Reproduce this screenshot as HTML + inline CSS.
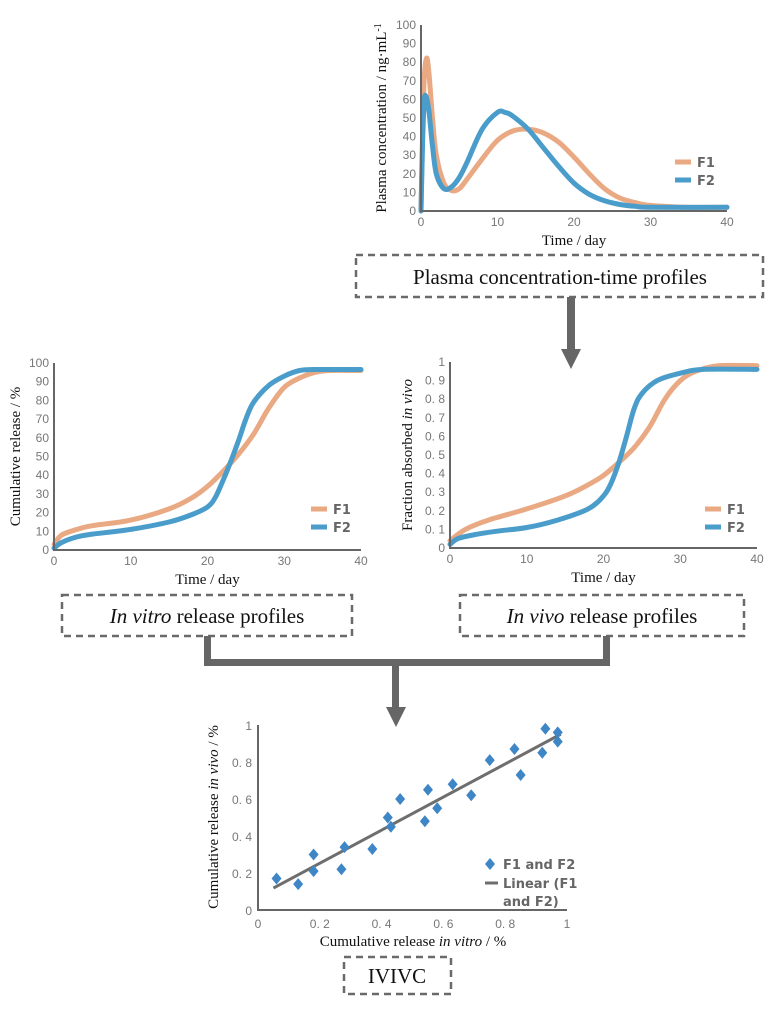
<!DOCTYPE html>
<html><head><meta charset="utf-8">
<style>
html,body{margin:0;padding:0;background:#fff;}
svg{display:block;}
.tk{font-family:"Liberation Sans",sans-serif;font-size:12px;fill:#777;}
.ttl{font-family:"Liberation Serif",serif;font-size:15px;fill:#111;}
.lg{font-family:"DejaVu Sans",sans-serif;font-size:13px;font-weight:bold;fill:#666;}
.bx{font-family:"Liberation Serif",serif;font-size:21px;fill:#111;}
</style></head>
<body>
<svg id="fig" width="778" height="1009" viewBox="0 0 778 1009" xmlns="http://www.w3.org/2000/svg">
  <!-- boxes -->
  <g fill="none" stroke="#6a6a6a" stroke-width="2.5" stroke-dasharray="7 5">
    <rect x="356" y="255" width="407" height="42"/>
    <rect x="62" y="595" width="290" height="41"/>
    <rect x="460" y="595" width="284" height="41"/>
    <rect x="344" y="957" width="107" height="37"/>
  </g>
  <text class="bx" x="560" y="284" text-anchor="middle">Plasma concentration-time profiles</text>
  <text class="bx" x="207" y="623" text-anchor="middle"><tspan font-style="italic">In vitro</tspan> release profiles</text>
  <text class="bx" x="602" y="623" text-anchor="middle"><tspan font-style="italic">In vivo</tspan> release profiles</text>
  <text class="bx" x="397" y="983" text-anchor="middle">IVIVC</text>
  <!-- arrows -->
  <g fill="#666" stroke="none">
    <rect x="567" y="297" width="8" height="53"/>
    <polygon points="561,349 581,349 571,369"/>
    <rect x="204" y="636" width="7" height="30"/>
    <rect x="603" y="636" width="7" height="30"/>
    <rect x="204" y="659" width="406" height="7"/>
    <rect x="392" y="662" width="7" height="46"/>
    <polygon points="386,707 406,707 396,727"/>
  </g>
  <g id="charts"></g>
</svg>
<script>
// ---- Plasma chart data ----
const plasmaDays1 = [0,0.2,0.4,0.7,1,1.5,2,3,4,5,6,8,10,12,14,16,18,20,22,24,26,28,30,35,40];
const plasmaF1 =    [0,40,70,82,76,50,30,15,11,12,17,28,38,43,44,42,37,29,20,12,7,4.5,3,2,2];
const plasmaDays2 = [0,0.2,0.4,0.6,1,1.5,2,3,4,5,6,8,10,11,12,14,16,18,20,22,24,26,28,30,40];
const plasmaF2 =    [0,35,58,62,55,35,20,12,13,18,26,44,53,53,51,44,34,24,15,9,5.5,3.5,2.5,2,2];
const plasmaYTicks = [0,10,20,30,40,50,60,70,80,90,100];
const timeTicks = [0,10,20,30,40];
// ---- In vitro chart data ----
const vitroDays1 = [0,1,3,5,10,15,18,20,22,24,26,28,30,32,34,36,40];
const vitroF1 =    [3,8,11,13,16,22,28,34,42,51,62,76,87,92,95,96,96];
const vitroDays2 = [0,1,3,5,10,15,18,20,21,22,23,24,25,26,28,30,32,34,40];
const vitroF2 =    [1,4,7,8.5,11,15,19,23,28,37,47,58,70,79,88,93,96,96.5,96.5];
const vitroYTicks = [0,10,20,30,40,50,60,70,80,90,100];
// ---- In vivo chart data ----
const vivoDays1 = [0,2,5,10,15,18,20,22,24,26,28,30,32,35,40];
const vivoF1 =    [0.04,0.1,0.15,0.21,0.28,0.34,0.39,0.46,0.54,0.65,0.8,0.9,0.95,0.98,0.98];
const vivoDays2 = [0,1,3,6,10,14,18,20,21,22,23,24,25,27,30,33,40];
const vivoF2 =    [0.02,0.05,0.07,0.09,0.11,0.15,0.21,0.28,0.35,0.46,0.6,0.75,0.83,0.9,0.94,0.96,0.96];
const vivoYTicks = [0,0.1,0.2,0.3,0.4,0.5,0.6,0.7,0.8,0.9,1];
const vivoYLabels = ["0","0. 1","0. 2","0. 3","0. 4","0. 5","0. 6","0. 7","0. 8","0. 9","1"];
// ---- IVIVC scatter data ----
const ivX = [0.06,0.13,0.18,0.18,0.27,0.28,0.37,0.42,0.43,0.46,0.54,0.55,0.58,0.63,0.69,0.75,0.83,0.85,0.92,0.93,0.97,0.97];
const ivY = [0.17,0.14,0.30,0.21,0.22,0.34,0.33,0.50,0.45,0.60,0.48,0.65,0.55,0.68,0.62,0.81,0.87,0.73,0.85,0.98,0.91,0.96];
const ivTicks = [0,0.2,0.4,0.6,0.8,1];
const ivXLabels = ["0","0. 2","0. 4","0. 6","0. 8","1"];
const ivYLabels = ["0","0. 2","0. 4","0. 6","0. 8","1"];

const NS = "http://www.w3.org/2000/svg";
const root = document.getElementById('charts');
const ORANGE = "#e9a983", BLUE = "#4a9dca";
function mk(tag, attrs, parent){ const e=document.createElementNS(NS,tag); for(const k in attrs) e.setAttribute(k,attrs[k]); (parent||root).appendChild(e); return e; }
function smooth(pts){
  let d = "M"+pts[0][0].toFixed(1)+","+pts[0][1].toFixed(1);
  for(let i=0;i<pts.length-1;i++){
    const p0=pts[Math.max(0,i-1)],p1=pts[i],p2=pts[i+1],p3=pts[Math.min(pts.length-1,i+2)];
    const c1=[p1[0]+(p2[0]-p0[0])/6,p1[1]+(p2[1]-p0[1])/6];
    const c2=[p2[0]-(p3[0]-p1[0])/6,p2[1]-(p3[1]-p1[1])/6];
    d+="C"+c1[0].toFixed(1)+","+c1[1].toFixed(1)+" "+c2[0].toFixed(1)+","+c2[1].toFixed(1)+" "+p2[0].toFixed(1)+","+p2[1].toFixed(1);
  }
  return d;
}
function axes(g,x0,y0,x1,y1){
  const a=mk('path',{d:`M${x0},${y1} L${x0},${y0} L${x1},${y0}`,fill:'none',stroke:'#666','stroke-width':2},g);
  
  
}
function lineChart(cfg){
  const g=mk('g',{});
  
  
  const sx=v=>cfg.x0+(v-0)/(40)*(cfg.x1-cfg.x0);
  const sy=v=>cfg.y0-(v/cfg.ymax)*(cfg.y0-cfg.y1);
  cfg.series.forEach(s=>{
    const p=mk('path',{d:smooth(s.x.map((v,i)=>[sx(v),sy(s.y[i])])),fill:'none',stroke:s.color,'stroke-width':5,'stroke-linejoin':'round','stroke-linecap':'round'},g);
    
    
  });
  axes(g,cfg.x0,cfg.y0,cfg.x1,cfg.y1);
  cfg.yTicks.forEach((v,i)=>{
    const t=mk('text',{class:'tk',x:cfg.x0-5,y:sy(v)+4,'text-anchor':'end'},g);
    t.textContent=cfg.yLabels?cfg.yLabels[i]:String(v);
    
    
  });
  timeTicks.forEach(v=>{
    const t=mk('text',{class:'tk',x:sx(v),y:cfg.y0+15,'text-anchor':'middle'},g);
    t.textContent=String(v);
    
    
  });
  const xt=mk('text',{class:'ttl',x:(cfg.x0+cfg.x1)/2,y:cfg.y0+34,'text-anchor':'middle'},g);
  xt.textContent='Time / day';
  
  
  const yt=mk('text',{class:'ttl',transform:`translate(${cfg.ytx},${(cfg.y0+cfg.y1)/2}) rotate(-90)`,'text-anchor':'middle'},g);
  yt.innerHTML=cfg.ytitle;
  
  
  cfg.series.forEach((s,i)=>{
    const ly=cfg.ly+i*18;
    const l=mk('line',{x1:cfg.lx,y1:ly,x2:cfg.lx+16,y2:ly,stroke:s.color,'stroke-width':5},g);
    
    
    const t=mk('text',{class:'lg',x:cfg.lx+22,y:ly+5},g);
    t.textContent=s.label;
    
    
  });
}
lineChart({name:'plasma-chart',x0:421,x1:727,y0:211,y1:25,ymax:100,yTicks:plasmaYTicks,ytx:386,
  ytitle:'Plasma concentration / ng·mL<tspan dy="-5" font-size="10">-1</tspan>',lx:675,ly:162,
  series:[{x:plasmaDays1,y:plasmaF1,color:ORANGE,label:'F1'},{x:plasmaDays2,y:plasmaF2,color:BLUE,label:'F2'}]});
lineChart({name:'in-vitro-chart',x0:54,x1:361,y0:550,y1:363,ymax:100,yTicks:vitroYTicks,ytx:20,
  ytitle:'Cumulative release / %',lx:311,ly:509,
  series:[{x:vitroDays1,y:vitroF1,color:ORANGE,label:'F1'},{x:vitroDays2,y:vitroF2,color:BLUE,label:'F2'}]});
lineChart({name:'in-vivo-chart',x0:450,x1:757,y0:548,y1:362,ymax:1,yTicks:vivoYTicks,yLabels:vivoYLabels,ytx:412,
  ytitle:'Fraction absorbed <tspan font-style="italic">in vivo</tspan>',lx:705,ly:509,
  series:[{x:vivoDays1,y:vivoF1,color:ORANGE,label:'F1'},{x:vivoDays2,y:vivoF2,color:BLUE,label:'F2'}]});

// ---- scatter ----
(function(){
  const x0=258,x1=567,y0=910,y1=725;
  const sx=v=>x0+v*(x1-x0), sy=v=>y0-v*(y0-y1);
  const g=mk('g',{});
  
  
  axes(g,x0,y0,x1,y1);
  const n=ivX.length; let mx=0,my=0; ivX.forEach((v,i)=>{mx+=v;my+=ivY[i];}); mx/=n;my/=n;
  let sxy=0,sxx=0; ivX.forEach((v,i)=>{sxy+=(v-mx)*(ivY[i]-my);sxx+=(v-mx)*(v-mx);});
  const b=sxy/sxx,a=my-b*mx;
  const xa=Math.min(...ivX)-0.01,xb=Math.max(...ivX)+0.01;
  const fl=mk('line',{x1:sx(xa),y1:sy(a+b*xa),x2:sx(xb),y2:sy(a+b*xb),stroke:'#6e6e6e','stroke-width':3},g);
  
  
  ivX.forEach((v,i)=>{
    const cx=sx(v),cy=sy(ivY[i]);
    const p=mk('polygon',{points:`${cx},${cy-6} ${cx+5},${cy} ${cx},${cy+6} ${cx-5},${cy}`,fill:'#3f86c6'},g);
    
    
  });
  ivTicks.forEach((v,i)=>{
    const t=mk('text',{class:'tk',x:x0-6,y:sy(v)+5,'text-anchor':'end','font-size':'13'},g);
    t.textContent=ivYLabels[i];
    
    
    const u=mk('text',{class:'tk',x:sx(v),y:y0+18,'text-anchor':'middle','font-size':'13'},g);
    u.textContent=ivXLabels[i];
    
    
  });
  const xt=mk('text',{class:'ttl',x:413,y:946,'text-anchor':'middle'},g);
  xt.innerHTML='Cumulative release <tspan font-style="italic">in vitro</tspan> / %';
  
  
  const yt=mk('text',{class:'ttl',transform:`translate(218,817) rotate(-90)`,'text-anchor':'middle'},g);
  yt.innerHTML='Cumulative release <tspan font-style="italic">in vivo</tspan> / %';
  
  
  const ld=mk('polygon',{points:'490,858 495,864 490,870 485,864',fill:'#3f86c6'},g);
  
  
  const lt=mk('text',{class:'lg',x:503,y:869},g);
  lt.textContent='F1 and F2';
  
  
  const ll=mk('line',{x1:485,y1:883,x2:498,y2:883,stroke:'#6e6e6e','stroke-width':3},g);
  
  
  const l2=mk('text',{class:'lg',x:503,y:888},g);
  l2.textContent='Linear (F1';
  
  
  const l3=mk('text',{class:'lg',x:503,y:906},g);
  l3.textContent='and F2)';
  
  
})();
</script>
</body></html>
